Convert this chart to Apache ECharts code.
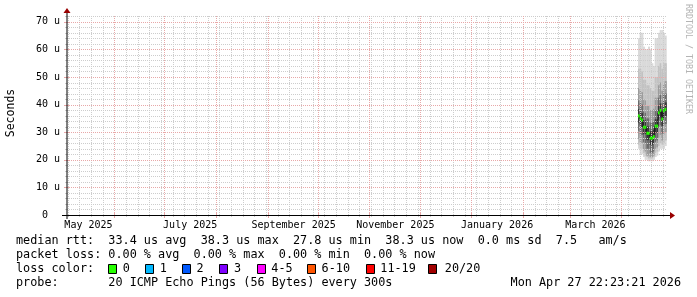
<!DOCTYPE html>
<html><head><meta charset="utf-8">
<script src="https://cdn.jsdelivr.net/npm/echarts@6/dist/echarts.min.js"></script>
<style>html,body{margin:0;padding:0;background:#fff}#c{width:697px;height:297px}</style>
</head><body><div id="c"></div>
<script>
// ---------- data ----------
const days   = ['2026-04-11','2026-04-12','2026-04-13','2026-04-14','2026-04-15','2026-04-16','2026-04-17','2026-04-18','2026-04-19','2026-04-20','2026-04-21','2026-04-22','2026-04-23','2026-04-24','2026-04-25','2026-04-26','2026-04-27'];
const median = [35.9,35.0,34.4,31.8,31.8,29.6,29.6,27.9,27.8,28.4,32.2,32.2,37.0,37.9,34.8,37.8,38.3];
const minV   = [24,22,22,21,20,20,19.5,19.5,19.5,20,21,21.5,23,24,24,24,25];
const lo2    = [25.5,24,24,22.5,21.5,21,20.5,20.5,20.5,21,22.5,23,25,26,25.5,26,27];
const lo3    = [27.5,26.5,26,23.5,23,21.5,21.5,21,21,21.5,24,24.5,28,29,27,29,30];
const lo4    = [30.5,29.5,29,26.5,26,24,24,22.5,22.5,23,26.5,27,31.5,32.5,29.5,32.5,33];
const lo5    = [33.4,32.5,31.9,29.3,29.3,27.1,27.1,25.4,25.3,25.9,29.7,29.7,34.5,35.4,32.3,35.3,35.8];
const hi5    = [38.4,37.5,36.9,34.3,34.3,32.1,32.1,30.4,30.3,30.9,34.7,34.7,39.5,40.4,37.3,40.3,40.8];
const hi4    = [41.5,40.5,40,37.5,37,35,35,33.5,33.5,34,38,38,42.5,43.5,40.5,43.5,44];
const hi3    = [46,45,44.5,42,41.5,39.5,39.5,38,38,38.5,42.5,42.5,47,48,45,48,48.5];
const hi2    = [53,53,52,49,49,47,47,46,45,45,50,50,54,55,53,55,55];
const maxV   = [64,66,66,61,60,60,61,60,55,54,64,64,66,67,67,66,65];

const xLabels     = ['May 2025','July 2025','September 2025','November 2025','January 2026','March 2026'];
const xLabelDates = ['2025-05-16T12:00Z','2025-07-16T12:00Z','2025-09-16T12:00Z','2025-11-16T12:00Z','2026-01-16T12:00Z','2026-03-16T12:00Z'];

const lossLabels = ['0','1','2','3','4-5','6-10','11-19','20/20'];
const lossColors = ['#26ff00','#00b8ff','#0059ff','#7e00ff','#ff00ff','#ff5500','#ff0000','#a10000'];

const legendLine1 = 'median rtt:  33.4 us avg  38.3 us max  27.8 us min  38.3 us now  0.0 ms sd  7.5   am/s';
const legendLine2 = 'packet loss: 0.00 % avg  0.00 % max  0.00 % min  0.00 % now';
const legendLine3 = 'loss color:';
const legendLine4 = 'probe:       20 ICMP Echo Pings (56 Bytes) every 300s';
const stamp       = 'Mon Apr 27 22:23:21 2026';

// ---------- setup ----------
const DAY = 86400000;
const xMin = Date.UTC(2025,4,3,15,22);
const xMax = Date.UTC(2026,3,28,9,36);
const yMax = 72.46;
const MONO = '"DejaVu Sans Mono", monospace';
const bandColors = ['#dadada','#c2c2c2','#9c9c9c','#6c6c6c','#383838'];

const T = days.map(d => Date.parse(d));
const smokeRows = T.map((t,i) => [t, minV[i], maxV[i], lo2[i], hi2[i], lo3[i], hi3[i], lo4[i], hi4[i], lo5[i], hi5[i]]);
const medRows = T.map((t,i) => [t, median[i]]);

// grid positions (axis structure)
const monthLines = [], weekLines = [];
for (let y = 2025, m = 0; y < 2027; ) {
  const t = Date.UTC(y, m, 1);
  if (t > xMin && t < xMax) monthLines.push(t);
  m++; if (m > 11) { m = 0; y++; }
  if (t > xMax) break;
}
for (let t = Date.UTC(2025,4,4); t < xMax; t += 7*DAY) if (t > xMin) weekLines.push(t);
const yMajor = [10,20,30,40,50,60,70];
const yMinor = [];
for (let v = 2; v <= 72; v += 2) if (v % 10 !== 0) yMinor.push(v);

const MINOR = '#cdcdcd', MAJOR = '#e8a8a8';

function renderSmoke(params, api) {
  const t0 = api.value(0), t1 = t0 + DAY;
  const kids = [];
  for (let b = 0; b < 5; b++) {
    const lo = api.value(1 + 2*b), hi = api.value(2 + 2*b);
    const a = api.coord([t0, hi]), c = api.coord([t1, lo]);
    kids.push({type:'rect', shape:{x:a[0], y:a[1], width:c[0]-a[0]+0.4, height:c[1]-a[1]}, style:{fill:bandColors[b]}});
  }
  return {type:'group', children:kids};
}

function renderGrid(params, api) {
  const kids = [];
  const bot = api.coord([xMin, 0]), top = api.coord([xMax, yMax]);
  const xL = bot[0], yB = bot[1], xR = top[0], yT = top[1];
  const px = v => Math.round(v) + 0.5;
  const ln = (x1,y1,x2,y2,col,dash) => ({type:'line', shape:{x1,y1,x2,y2}, style:{stroke:col, lineWidth:1, lineDash:dash||null}});
  weekLines.forEach(t => {
    const x = px(api.coord([t,0])[0]);
    kids.push(ln(x, yB, x, yT, MINOR, [1,1]));
    kids.push(ln(x, yB-1, x, yB+2, MINOR));
  });
  yMinor.forEach(v => {
    const y = px(api.coord([xMin, v])[1]);
    kids.push(ln(xL, y, xR, y, MINOR, [1,1]));
    kids.push(ln(xL-2, y, xL+1, y, MINOR));
  });
  monthLines.forEach(t => {
    const x = px(api.coord([t,0])[0]);
    kids.push(ln(x, yB, x, yT, MAJOR, [1,1]));
    kids.push(ln(x, yB-2, x, yB+3, MAJOR));
  });
  yMajor.forEach(v => {
    const y = px(api.coord([xMin, v])[1]);
    kids.push(ln(xL, y, xR, y, MAJOR, [1,1]));
    kids.push(ln(xL-3, y, xL+2, y, MAJOR));
  });
  // x tick labels
  xLabelDates.forEach((d,i) => {
    const x = api.coord([Date.parse(d), 0])[0];
    kids.push({type:'text', style:{text:xLabels[i], x:x, y:yB+10, font:'10px '+MONO, fill:'#000', textAlign:'center', textVerticalAlign:'middle'}});
  });
  return {type:'group', children:kids};
}

function renderMedLine(params, api) {
  const i = params.dataIndex;
  const t0 = api.value(0), t1 = t0 + DAY;
  const a = api.coord([t0, api.value(1)]), b = api.coord([t1, api.value(1)]);
  const kids = [{type:'line', shape:{x1:a[0], y1:a[1], x2:b[0], y2:b[1]}, style:{stroke:'#111', lineWidth:1}}];
  if (i + 1 < median.length) {
    const c = api.coord([t1, median[i+1]]);
    kids.push({type:'line', shape:{x1:b[0], y1:b[1], x2:c[0], y2:c[1]}, style:{stroke:'#111', lineWidth:1}});
  }
  return {type:'group', children:kids};
}

function renderMedBand(params, api) {
  const t0 = api.value(0), t1 = t0 + DAY;
  const a = api.coord([t0, api.value(1)]), b = api.coord([t1, api.value(1)]);
  return {type:'rect', shape:{x:a[0], y:a[1]-1.5, width:b[0]-a[0], height:3}, style:{fill:lossColors[0]}};
}

// legend graphics
const gfx = [];
const txt = (s, x, y, extra) => ({type:'text', silent:true, style:Object.assign({text:s, x:x, y:y, font:'11.8px '+MONO, fill:'#000', textVerticalAlign:'middle'}, extra||{})});
gfx.push(txt(legendLine1, 16, 241));
gfx.push(txt(legendLine2, 16, 255));
gfx.push(txt(legendLine3, 16, 269));
gfx.push(txt(legendLine4, 16, 283));
gfx.push(txt(stamp, 681, 283, {textAlign:'right'}));
const boxX  = [107.6,145,182,219.3,256.7,307.4,365.6,428];
const textX = [122.8,159.7,196.6,234,271.3,321.6,380.3,444.8];
lossLabels.forEach((l,i) => {
  gfx.push({type:'rect', shape:{x:Math.round(boxX[i])+0.5, y:264.5, width:8, height:9}, style:{fill:lossColors[i], stroke:'#000', lineWidth:1}});
  gfx.push(txt(l, textX[i], 269));
});
// axis title and watermark
gfx.push({type:'text', x:11, y:113, rotation:Math.PI/2, style:{text:'Seconds', x:0, y:0, font:'11.5px '+MONO, fill:'#000', textAlign:'center', textVerticalAlign:'middle'}});
gfx.push({type:'text', x:688, y:4, rotation:-Math.PI/2, style:{text:'RRDTOOL / TOBI OETIKER', x:0, y:0, font:'8.3px '+MONO, fill:'#b4b4b4', textAlign:'left', textVerticalAlign:'middle'}});
// axis lines and arrows
gfx.push({type:'line', shape:{x1:62, y1:215.5, x2:670, y2:215.5}, style:{stroke:'#000', lineWidth:1}, z:50});
gfx.push({type:'line', shape:{x1:67, y1:219, x2:67, y2:12}, style:{stroke:'#000', lineWidth:1}, z:50});
gfx.push({type:'polygon', shape:{points:[[670,212],[675,215.5],[670,219]]}, style:{fill:'#990000'}, z:50});
gfx.push({type:'polygon', shape:{points:[[63.5,13],[67,8],[70.5,13]]}, style:{fill:'#990000'}, z:50});

const chart = echarts.init(document.getElementById('c'), null, {renderer:'canvas', width:697, height:297});
chart.setOption({
  animation:false,
  backgroundColor:'#ffffff',
  grid:{left:67, right:30, top:15, bottom:82, outerBoundsMode:'none'},
  xAxis:{type:'time', min:xMin, max:xMax, show:false},
  yAxis:{type:'value', min:0, max:yMax, interval:10,
    axisLine:{show:false}, axisTick:{show:false}, splitLine:{show:false},
    axisLabel:{showMaxLabel:false, margin:7, fontFamily:'DejaVu Sans Mono', fontSize:10, color:'#000',
      formatter: v => v === 0 ? '0  ' : v + ' u'}},
  series:[
    {type:'custom', z:1, renderItem:renderSmoke, data:smokeRows, encode:{x:0, y:[1,2]}, silent:true},
    {type:'custom', z:2, clip:false, renderItem:renderGrid, data:[[xMin,0]], encode:{x:0,y:1}, silent:true},
    {type:'custom', z:3, renderItem:renderMedLine, data:medRows, encode:{x:0,y:1}, silent:true},
    {type:'custom', z:4, renderItem:renderMedBand, data:medRows, encode:{x:0,y:1}, silent:true}
  ],
  graphic:gfx
});
</script>
</body></html>
